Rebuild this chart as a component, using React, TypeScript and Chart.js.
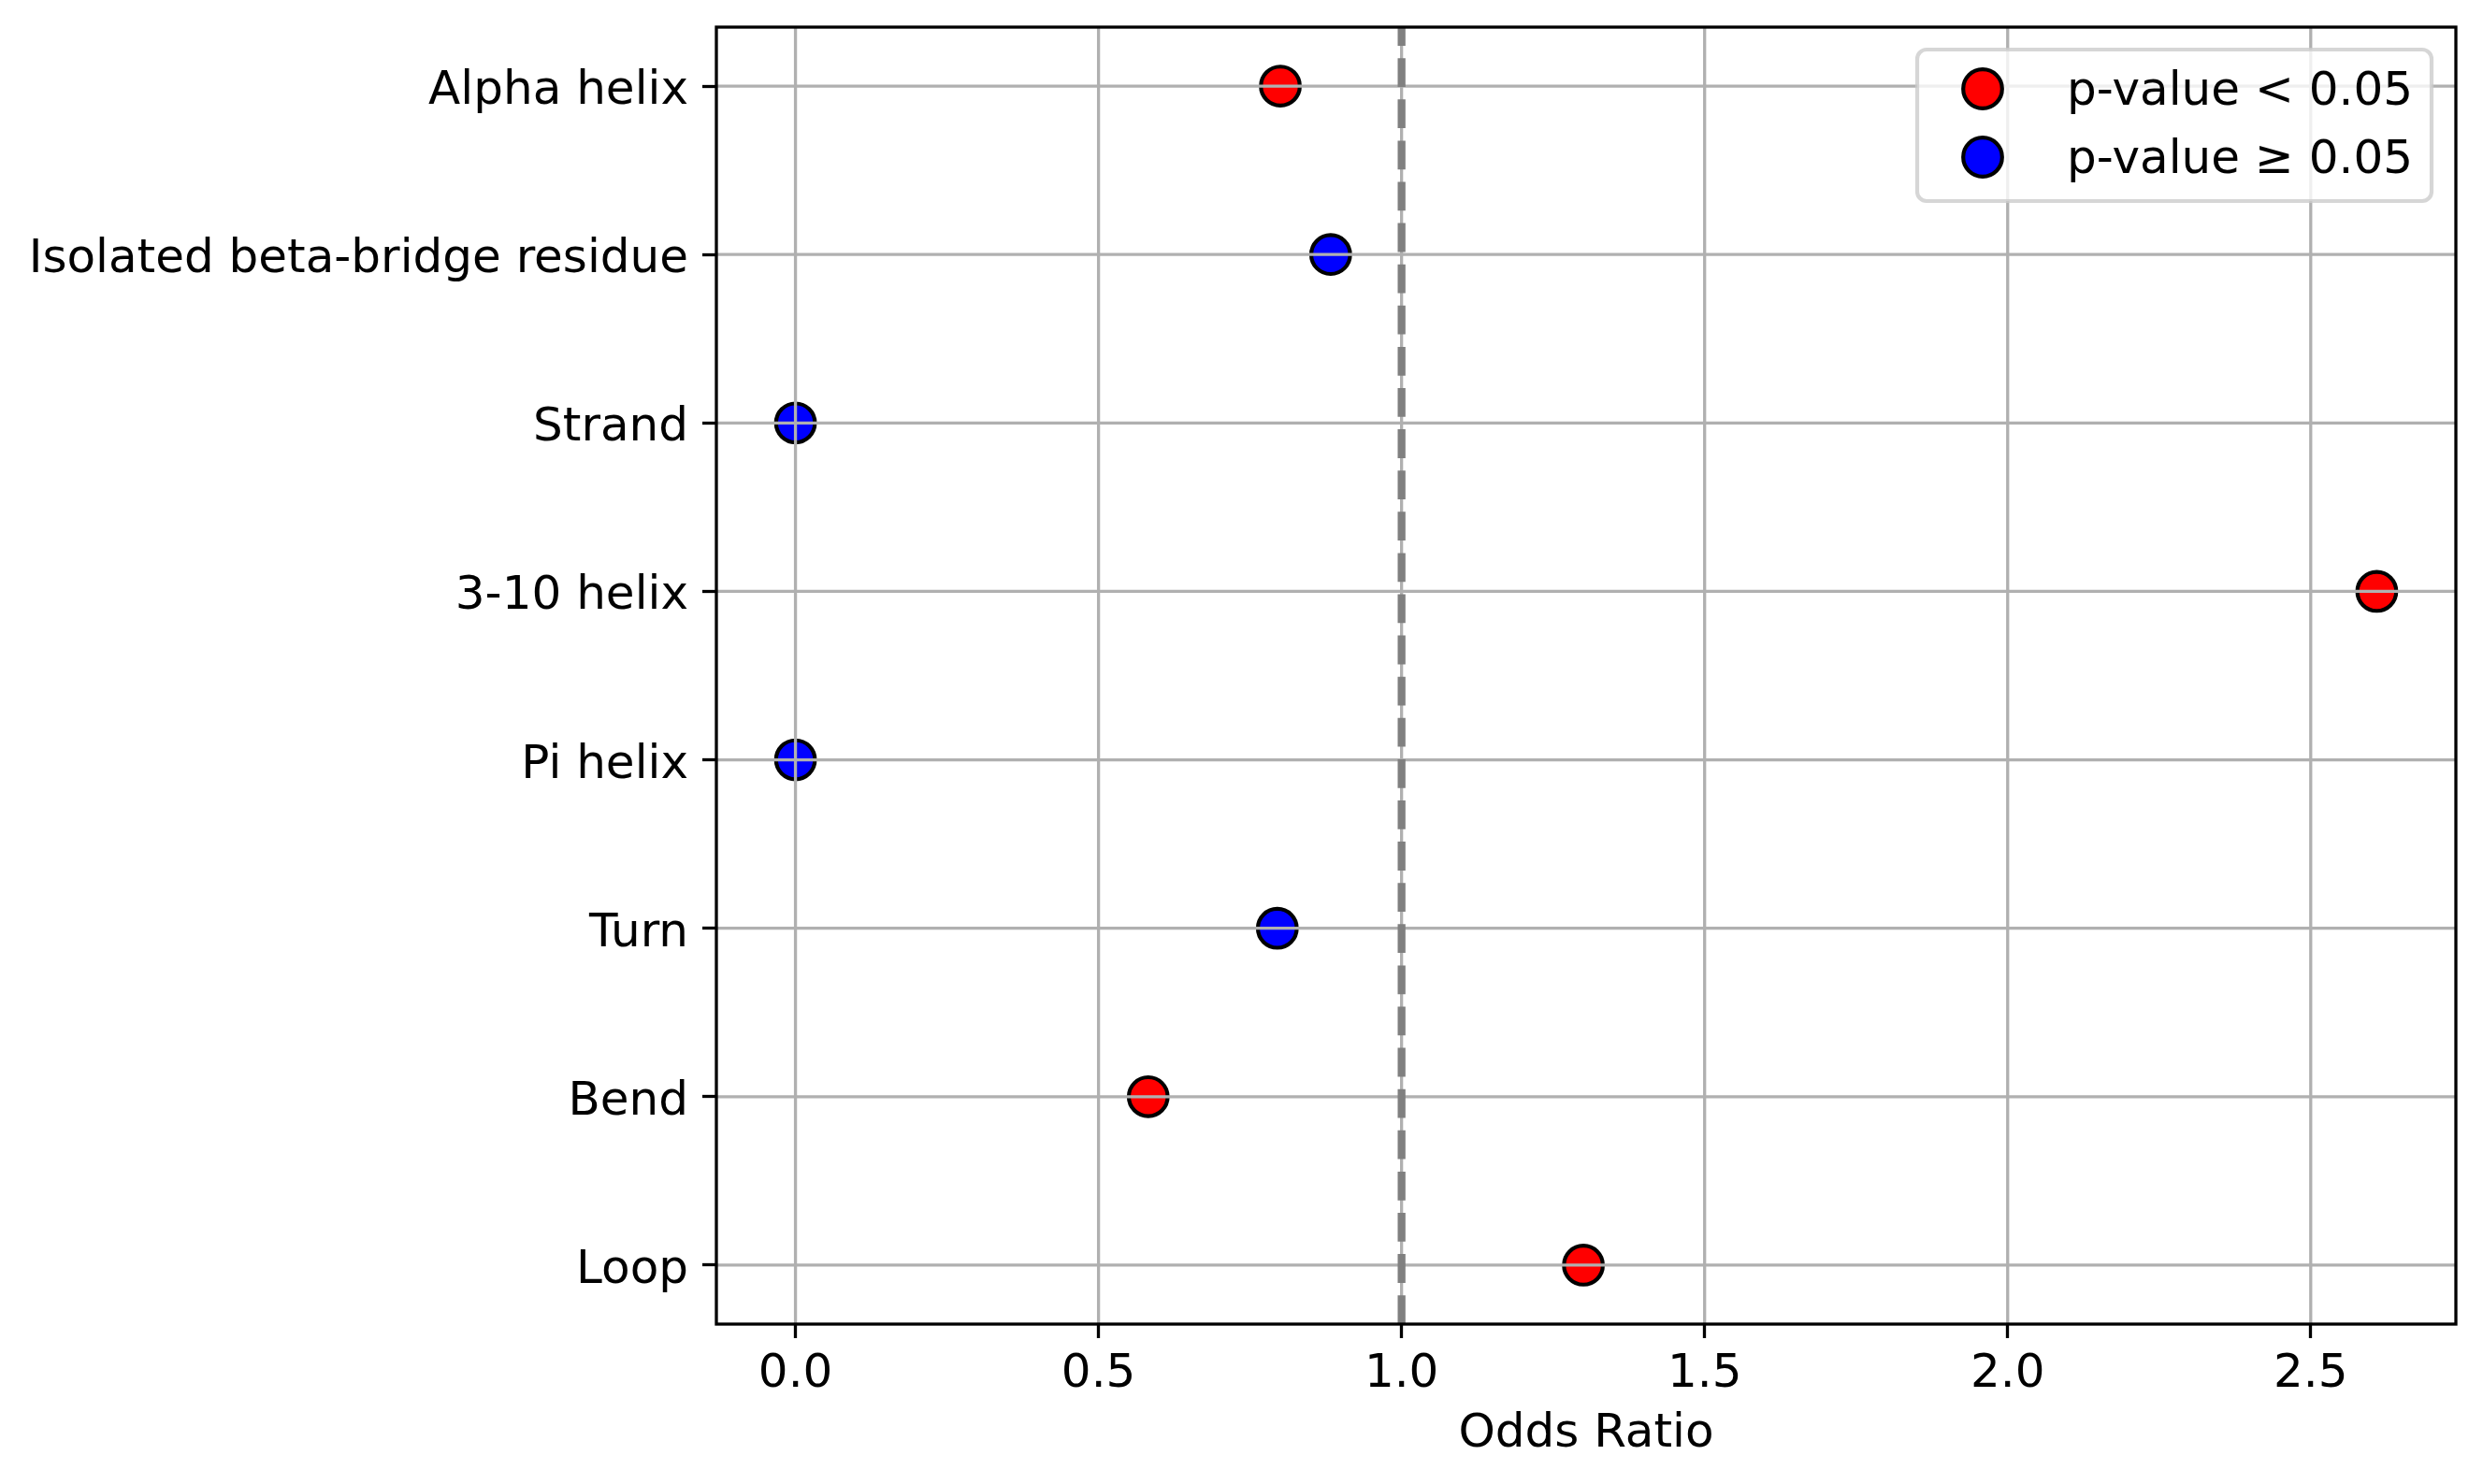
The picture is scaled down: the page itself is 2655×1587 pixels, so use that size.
import React, { useEffect, useRef } from "react";
import { Chart, registerables } from "chart.js";

Chart.register(...registerables);

// ---- data ----
const categories: string[] = [
  "Alpha helix",
  "Isolated beta-bridge residue",
  "Strand",
  "3-10 helix",
  "Pi helix",
  "Turn",
  "Bend",
  "Loop",
];
const oddsRatios: number[] = [0.8, 0.883, 0.0, 2.609, 0.0, 0.795, 0.582, 1.3];
const significant: boolean[] = [true, false, false, true, false, false, true, true];
const xTickValues: number[] = [0, 0.5, 1.0, 1.5, 2.0, 2.5];
const referenceOR = 1.0;
const legendLabels: string[] = ["p-value < 0.05", "p-value \u2265 0.05"];
const legendColors: string[] = ["#ff0000", "#0000ff"];

const FONT_FAMILY = "DejaVu Sans";
const FONT_SIZE = 50;

const overlayPlugin = {
  id: "overlay",
  afterDatasetsDraw(chart: any) {
    const { ctx, chartArea, scales } = chart;
    const { left, right, top, bottom } = chartArea;
    const xs = scales.x;
    const ys = scales.y;
    ctx.save();
    // grid lines (drawn above the markers, as in the reference)
    ctx.strokeStyle = "#b0b0b0";
    ctx.lineWidth = 3.3;
    for (const v of xTickValues) {
      const px = xs.getPixelForValue(v);
      ctx.beginPath();
      ctx.moveTo(px, top);
      ctx.lineTo(px, bottom);
      ctx.stroke();
    }
    categories.forEach((_, i) => {
      const py = ys.getPixelForValue(i);
      ctx.beginPath();
      ctx.moveTo(left, py);
      ctx.lineTo(right, py);
      ctx.stroke();
    });
    // dashed reference line
    const rx = xs.getPixelForValue(referenceOR);
    ctx.strokeStyle = "#808080";
    ctx.lineWidth = 8.3;
    ctx.setLineDash([30.8, 13.3]);
    ctx.beginPath();
    ctx.moveTo(rx, bottom);
    ctx.lineTo(rx, top);
    ctx.stroke();
    ctx.setLineDash([]);
    // spines
    ctx.strokeStyle = "#000";
    ctx.lineWidth = 3.3;
    ctx.strokeRect(left, top, right - left, bottom - top);
    // legend
    const lw = 550;
    const lh = 162;
    const lx = right - 26 - lw;
    const ly = top + 24;
    ctx.beginPath();
    ctx.roundRect(lx, ly, lw, lh, 10);
    ctx.fillStyle = "rgba(255,255,255,0.8)";
    ctx.fill();
    ctx.strokeStyle = "rgba(204,204,204,0.8)";
    ctx.lineWidth = 4.2;
    ctx.stroke();
    ctx.font = `${FONT_SIZE}px "${FONT_FAMILY}"`;
    ctx.textAlign = "left";
    ctx.textBaseline = "alphabetic";
    legendLabels.forEach((label, i) => {
      const cy = ly + 42 + i * 73;
      const cx = lx + 70;
      ctx.beginPath();
      ctx.arc(cx, cy, 20.8, 0, Math.PI * 2);
      ctx.fillStyle = legendColors[i];
      ctx.fill();
      ctx.strokeStyle = "#000";
      ctx.lineWidth = 4.2;
      ctx.stroke();
      ctx.fillStyle = "#000";
      ctx.fillText(label, lx + 160, cy + 17);
    });
    ctx.restore();
  },
};

export default function App() {
  const canvasRef = useRef<HTMLCanvasElement | null>(null);

  useEffect(() => {
    if (!canvasRef.current) return;
    const font = { family: FONT_FAMILY, size: FONT_SIZE };
    const sigData = categories
      .map((_, i) => (significant[i] ? { x: oddsRatios[i], y: i } : null))
      .filter((d) => d !== null);
    const nonSigData = categories
      .map((_, i) => (!significant[i] ? { x: oddsRatios[i], y: i } : null))
      .filter((d) => d !== null);

    const chart = new Chart(canvasRef.current, {
      type: "scatter",
      data: {
        datasets: [
          {
            label: legendLabels[0],
            data: sigData as any,
            backgroundColor: legendColors[0],
            borderColor: "#000",
            pointRadius: 20.8,
            pointHoverRadius: 20.8,
            pointBorderWidth: 4.2,
            pointHoverBorderWidth: 4.2,
            clip: false as any,
          },
          {
            label: legendLabels[1],
            data: nonSigData as any,
            backgroundColor: legendColors[1],
            borderColor: "#000",
            pointRadius: 20.8,
            pointHoverRadius: 20.8,
            pointBorderWidth: 4.2,
            pointHoverBorderWidth: 4.2,
            clip: false as any,
          },
        ],
      },
      options: {
        animation: false,
        responsive: true,
        maintainAspectRatio: false,
        events: [],
        layout: { padding: { top: 29, right: 29, left: 0, bottom: 0 } },
        plugins: {
          legend: { display: false },
          tooltip: { enabled: false },
        },
        scales: {
          x: {
            type: "linear",
            position: "bottom",
            min: -0.1305,
            max: 2.7395,
            grid: {
              display: true,
              drawOnChartArea: false,
              drawTicks: true,
              tickLength: 15,
              tickWidth: 3.3,
              tickColor: "#000",
            },
            border: { display: false },
            ticks: {
              font,
              color: "#000",
              padding: 9,
              autoSkip: false,
              maxRotation: 0,
              callback: (v: any) => Number(v).toFixed(1),
            },
            afterBuildTicks: (s: any) => {
              s.ticks = xTickValues.map((v) => ({ value: v }));
            },
            title: {
              display: true,
              text: "Odds Ratio",
              font,
              color: "#000",
              padding: { top: 0, bottom: 23 },
            },
            afterFit: (s: any) => {
              s.height = 171;
              s.paddingLeft = 0;
              s.paddingRight = 0;
            },
          },
          y: {
            type: "linear",
            reverse: true,
            min: -0.35,
            max: categories.length - 1 + 0.35,
            grid: {
              display: true,
              drawOnChartArea: false,
              drawTicks: true,
              tickLength: 15,
              tickWidth: 3.3,
              tickColor: "#000",
            },
            border: { display: false },
            ticks: {
              font,
              color: "#000",
              padding: 15,
              autoSkip: false,
              labelOffset: 6,
              callback: (v: any) => categories[Math.round(Number(v))] ?? "",
            },
            afterBuildTicks: (s: any) => {
              s.ticks = categories.map((_, i) => ({ value: i }));
            },
            afterFit: (s: any) => {
              s.width = 766;
              s.paddingTop = 0;
              s.paddingBottom = 0;
            },
          },
        },
      },
      plugins: [overlayPlugin],
    });
    return () => chart.destroy();
  }, []);

  return (
    <div style={{ position: "absolute", left: 0, top: 0, width: 2655, height: 1587, background: "#fff" }}>
      <canvas ref={canvasRef} />
    </div>
  );
}
